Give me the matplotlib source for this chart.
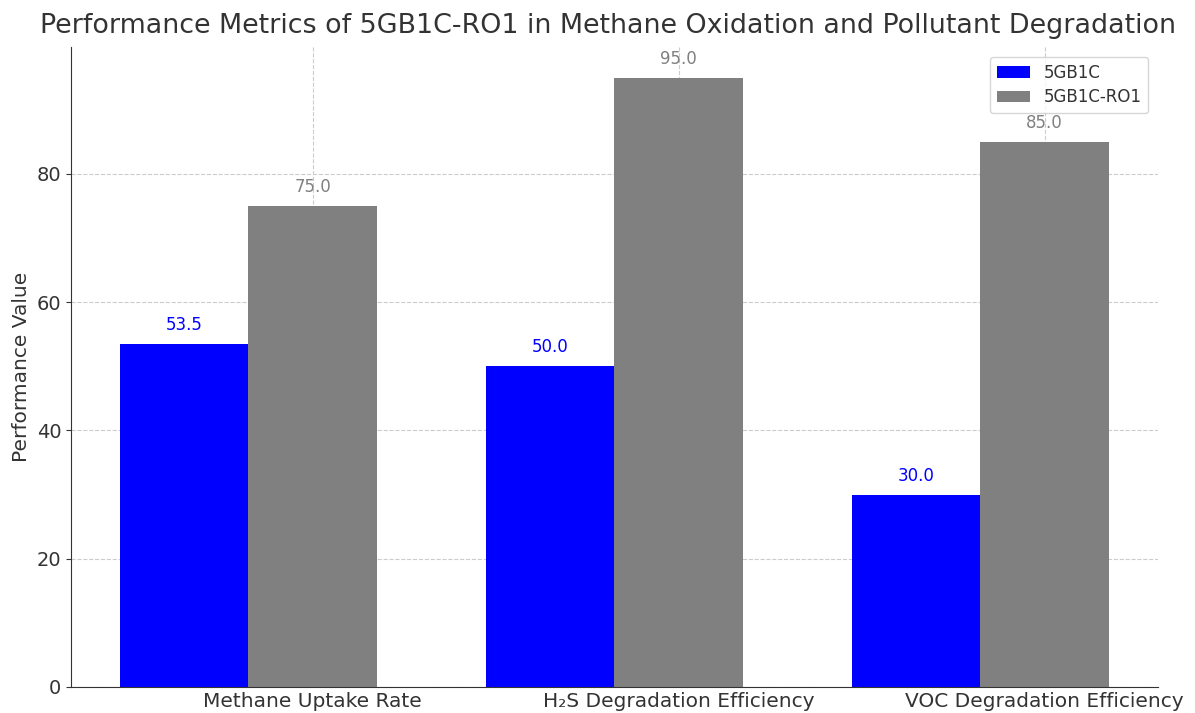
import numpy as np
import matplotlib.pyplot as plt

# chart data
categories = ['Methane Uptake Rate', 'H\u2082S Degradation Efficiency', 'VOC Degradation Efficiency']
strain_5gb1c = [53.5, 50.0, 30.0]
strain_ro1 = [75.0, 95.0, 85.0]
series_names = ['5GB1C', '5GB1C-RO1']

text_color = '#333333'
plt.rcParams['text.color'] = text_color
plt.rcParams['axes.labelcolor'] = text_color
plt.rcParams['xtick.color'] = text_color
plt.rcParams['ytick.color'] = text_color

fig, ax = plt.subplots(figsize=(11.95, 7.13), dpi=100)
fig.subplots_adjust(left=0.0594, right=0.969, bottom=0.0365, top=0.934)

x = np.arange(len(categories))
width = 0.35

bars1 = ax.bar(x, strain_5gb1c, width, color='blue', label=series_names[0])
bars2 = ax.bar(x + width, strain_ro1, width, color='gray', label=series_names[1])

# value labels above bars
for bars, col in [(bars1, 'blue'), (bars2, 'gray')]:
    for b in bars:
        h = b.get_height()
        ax.annotate(f'{h:.1f}', xy=(b.get_x() + b.get_width() / 2, h),
                    xytext=(0, 7), textcoords='offset points',
                    ha='center', va='bottom', color=col, fontsize=12)

ax.set_title('Performance Metrics of 5GB1C-RO1 in Methane Oxidation and Pollutant Degradation',
             fontsize=19.4, color=text_color, pad=10, x=0.494)
ax.set_ylabel('Performance Value', fontsize=14.5)
ax.set_xticks(x + width)
ax.set_xticklabels(categories, fontsize=14.5)
ax.tick_params(axis='y', labelsize=14)
ax.tick_params(axis='x', direction='in', length=5)

ax.grid(True, linestyle='--', color='#cccccc', linewidth=0.8)
ax.set_axisbelow(True)
for s in ['top', 'right']:
    ax.spines[s].set_visible(False)
for s in ['left', 'bottom']:
    ax.spines[s].set_color(text_color)

ax.legend(loc='upper right', fontsize=12, borderpad=0.4, labelspacing=0.4,
          borderaxespad=0.6)

fig.savefig('out.png', dpi=100)
